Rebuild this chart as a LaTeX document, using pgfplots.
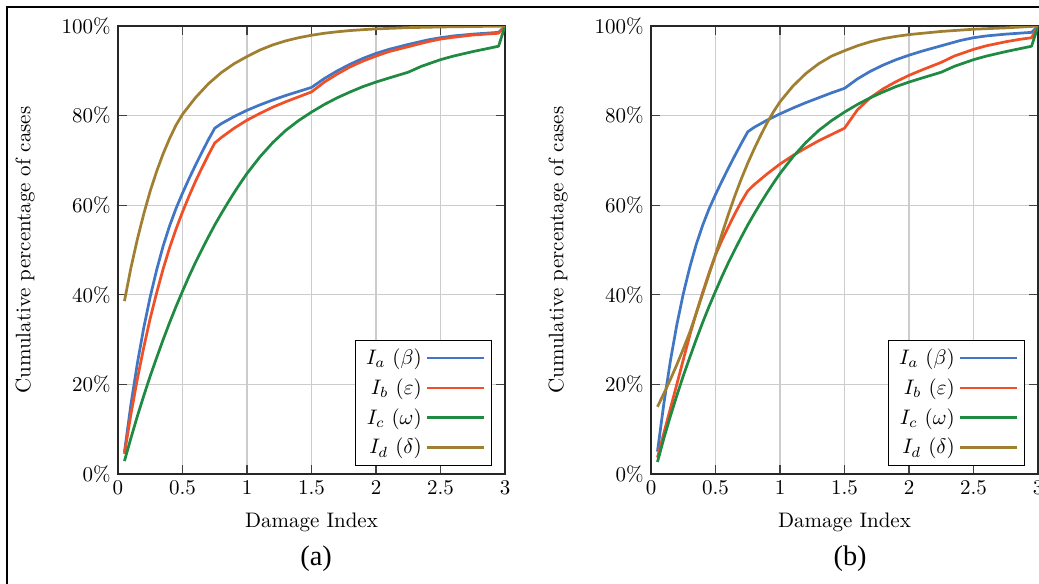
\documentclass[border=0pt]{standalone}
\usepackage{fontspec}
\usepackage{pgfplots}
\pgfplotsset{compat=1.18}
\newfontfamily\timesfont{Liberation Serif}
\definecolor{cA}{RGB}{64,118,196}
\definecolor{cB}{RGB}{240,80,40}
\definecolor{cC}{RGB}{30,138,66}
\definecolor{cD}{RGB}{160,127,48}
\pgfplotsset{
  dmg/.style={
    scale only axis, width=184.3pt, height=213.3pt,
    xmin=0, xmax=3, ymin=0, ymax=100,
    xtick={0,0.5,...,3}, ytick={0,20,...,100},
    yticklabel={$\pgfmathprintnumber{\tick}\%$},
    grid=major, major grid style={line width=0.6pt, black!20},
    axis line style={line width=0.6pt, black!85},
    major tick style={line width=0.6pt, black!75},
    xlabel={Damage Index}, ylabel={Cumulative percentage of cases},
    xlabel style={at={(axis description cs:0.5,-0.109)}, anchor=center},
    ylabel style={at={(axis description cs:-0.24,0.5)}, anchor=center},
    every axis plot/.append style={line width=1.3pt, no markers, line join=round},
    legend plot pos=right,
    legend cell align=right,
    legend image code/.code={\draw[#1] (0cm,0cm) -- (0.95cm,0cm);},
    legend style={at={(axis description cs:0.967,0.018)}, anchor=south east,
      draw=black, line width=0.5pt, row sep=1.2pt, inner xsep=3pt},
  }
}
\begin{document}
\begin{tikzpicture}
\useasboundingbox (0,0) rectangle (494.76pt,277.62pt);
\clip (0,0) rectangle (494.76pt,277.62pt);
\draw[line width=0.95pt] (3.33pt,-10pt) rectangle (520pt,274.3pt);
\node[font=\timesfont\fontsize{13.5}{16}\selectfont] at (150.5pt,11.4pt) {(a)};
\node[font=\timesfont\fontsize{13.5}{16}\selectfont] at (404.8pt,11.4pt) {(b)};

% ---------------- panel (a)
\begin{axis}[dmg, at={(56.19pt,51.9pt)}, anchor=south west]
\addplot[cA] coordinates {
(0.05,4.9) (0.1,15.5) (0.15,24.7) (0.2,32.7) (0.25,39.6) (0.3,45.6) (0.35,50.9) (0.4,55.4)
(0.45,59.3) (0.5,62.7) (0.55,65.9) (0.6,68.9) (0.65,71.8) (0.7,74.6) (0.75,77.2)
(0.8,78.2) (0.9,79.8) (1.0,81.2) (1.1,82.4) (1.2,83.5) (1.3,84.5) (1.4,85.4) (1.5,86.3)
(1.6,88.3) (1.7,90.0) (1.8,91.5) (1.9,92.8) (2.0,93.9) (2.1,94.8) (2.25,95.9) (2.4,96.9)
(2.5,97.4) (2.6,97.8) (2.75,98.2) (2.9,98.5) (2.95,98.6) (3.0,100)};
\addlegendentry{$I_a\ (\beta)$}
\addplot[cB] coordinates {
(0.05,4.5) (0.1,13.3) (0.15,21.2) (0.2,28.3) (0.25,34.8) (0.3,40.5) (0.35,45.8) (0.4,50.5)
(0.45,54.7) (0.5,58.5) (0.55,62.0) (0.6,65.3) (0.65,68.3) (0.7,71.2) (0.75,73.9)
(0.8,75.1) (0.9,77.2) (1.0,79.0) (1.1,80.5) (1.2,81.9) (1.3,83.1) (1.4,84.2) (1.5,85.3)
(1.6,87.5) (1.7,89.3) (1.8,90.9) (1.9,92.2) (2.0,93.3) (2.1,94.3) (2.25,95.4) (2.4,96.5)
(2.5,97.1) (2.6,97.5) (2.75,98.0) (2.9,98.3) (2.95,98.4) (3.0,100)};
\addlegendentry{$I_b\ (\varepsilon)$}
\addplot[cC] coordinates {
(0.05,2.9) (0.1,8.0) (0.15,12.9) (0.2,17.5) (0.25,21.9) (0.3,26.0) (0.35,30.0) (0.4,33.8)
(0.45,37.4) (0.5,40.8) (0.55,44.1) (0.6,47.2) (0.65,50.1) (0.7,52.9) (0.75,55.6) (0.8,58.1)
(0.85,60.5) (0.9,62.8) (0.95,65.0) (1.0,67.1) (1.1,70.8) (1.2,74.0) (1.3,76.7) (1.4,78.9)
(1.5,80.8) (1.6,82.5) (1.7,84.0) (1.8,85.3) (1.9,86.5) (2.0,87.5) (2.1,88.4) (2.25,89.7)
(2.35,91.0) (2.5,92.5) (2.6,93.3) (2.75,94.3) (2.85,94.9) (2.95,95.5) (3.0,100)};
\addlegendentry{$I_c\ (\omega)$}
\addplot[cD] coordinates {
(0.05,38.6) (0.1,46.0) (0.15,52.4) (0.2,58.1) (0.25,63.2) (0.3,67.6) (0.35,71.5) (0.4,74.9)
(0.45,77.9) (0.5,80.3) (0.6,84.0) (0.7,87.1) (0.8,89.6) (0.9,91.6) (1.0,93.2) (1.1,94.65)
(1.2,95.8) (1.3,96.7) (1.4,97.4) (1.5,97.95) (1.6,98.4) (1.7,98.73) (1.8,99.0) (1.9,99.2)
(2.0,99.37) (2.25,99.65) (2.5,99.8) (2.75,99.9) (3.0,100)};
\addlegendentry{$I_d\ (\delta)$}
\end{axis}

% ---------------- panel (b)
\begin{axis}[dmg, at={(310pt,51.9pt)}, anchor=south west]
\addplot[cA] coordinates {
(0.05,5.0) (0.1,15.8) (0.15,25.2) (0.2,33.3) (0.25,40.2) (0.3,46.1) (0.35,51.2) (0.4,55.5)
(0.45,59.2) (0.5,62.4) (0.55,65.4) (0.6,68.3) (0.65,71.1) (0.7,73.8) (0.75,76.4)
(0.8,77.4) (0.9,79.0) (1.0,80.4) (1.1,81.7) (1.2,82.9) (1.3,84.0) (1.4,85.1) (1.5,86.1)
(1.6,88.2) (1.7,89.9) (1.8,91.3) (1.9,92.5) (2.0,93.5) (2.1,94.4) (2.25,95.6) (2.4,96.8)
(2.5,97.4) (2.6,97.8) (2.75,98.2) (2.9,98.5) (2.95,98.6) (3.0,100)};
\addlegendentry{$I_a\ (\beta)$}
\addplot[cB] coordinates {
(0.05,3.7) (0.1,9.2) (0.15,14.6) (0.2,20.0) (0.25,25.5) (0.3,30.9) (0.35,35.9) (0.4,40.5)
(0.45,44.9) (0.5,48.9) (0.55,52.2) (0.6,55.2) (0.65,58.1) (0.7,60.8) (0.75,63.2)
(0.8,64.6) (0.9,67.0) (1.0,69.2) (1.1,71.1) (1.2,72.8) (1.3,74.4) (1.4,75.8) (1.5,77.2)
(1.6,81.3) (1.7,84.0) (1.8,86.0) (1.9,87.6) (2.0,89.0) (2.1,90.2) (2.25,91.9) (2.35,93.3)
(2.5,94.8) (2.6,95.6) (2.75,96.5) (2.85,97.0) (2.95,97.4) (3.0,100)};
\addlegendentry{$I_b\ (\varepsilon)$}
\addplot[cC] coordinates {
(0.05,2.7) (0.1,8.0) (0.15,12.9) (0.2,17.5) (0.25,21.9) (0.3,26.0) (0.35,30.0) (0.4,33.8)
(0.45,37.4) (0.5,40.8) (0.55,44.1) (0.6,47.2) (0.65,50.1) (0.7,52.9) (0.75,55.6) (0.8,58.1)
(0.85,60.5) (0.9,62.8) (0.95,65.0) (1.0,67.1) (1.1,70.8) (1.2,74.0) (1.3,76.7) (1.4,78.9)
(1.5,80.8) (1.6,82.5) (1.7,84.0) (1.8,85.3) (1.9,86.5) (2.0,87.5) (2.1,88.4) (2.25,89.7)
(2.35,91.0) (2.5,92.5) (2.6,93.3) (2.75,94.3) (2.85,94.9) (2.95,95.5) (3.0,100)};
\addlegendentry{$I_c\ (\omega)$}
\addplot[cD] coordinates {
(0.05,15.0) (0.1,18.0) (0.15,21.1) (0.2,24.4) (0.25,27.9) (0.3,31.6) (0.35,35.8) (0.4,40.2)
(0.45,44.6) (0.5,49.0) (0.55,53.6) (0.6,58.0) (0.65,62.1) (0.7,65.9) (0.75,69.4)
(0.8,72.6) (0.85,75.6) (0.9,78.4) (0.95,80.9) (1.0,83.1) (1.1,86.6) (1.2,89.4) (1.3,91.6)
(1.4,93.3) (1.5,94.5) (1.6,95.6) (1.7,96.5) (1.8,97.2) (1.9,97.7) (2.0,98.1) (2.25,98.8)
(2.5,99.3) (2.75,99.6) (3.0,100)};
\addlegendentry{$I_d\ (\delta)$}
\end{axis}
\end{tikzpicture}
\end{document}
